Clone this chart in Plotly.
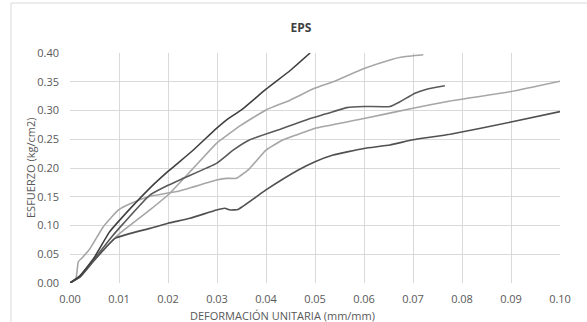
import plotly.graph_objects as go

# Curve data (strain mm/mm, stress kg/cm2)
x1 = [0.0, 0.002, 0.005, 0.008, 0.010, 0.0163, 0.020, 0.025, 0.0299, 0.0323, 0.035, 0.040, 0.045, 0.049]
y1 = [0.0, 0.012, 0.045, 0.088, 0.108, 0.165, 0.194, 0.230, 0.269, 0.286, 0.301, 0.337, 0.370, 0.400]

x2 = [0.0, 0.002, 0.005, 0.008, 0.010, 0.0163, 0.020, 0.025, 0.0299, 0.035, 0.040, 0.0449, 0.050, 0.0537, 0.060, 0.0653, 0.0677, 0.0721]
y2 = [0.0, 0.010, 0.040, 0.068, 0.085, 0.127, 0.153, 0.198, 0.243, 0.275, 0.301, 0.318, 0.339, 0.350, 0.373, 0.388, 0.393, 0.397]

x3 = [0.0, 0.002, 0.005, 0.008, 0.010, 0.0163, 0.020, 0.0231, 0.0299, 0.0333, 0.0367, 0.0435, 0.049, 0.0537, 0.0565, 0.060, 0.0653, 0.0673, 0.0704, 0.0728, 0.0765]
y3 = [0.0, 0.012, 0.042, 0.075, 0.095, 0.153, 0.170, 0.182, 0.208, 0.231, 0.249, 0.269, 0.286, 0.298, 0.305, 0.307, 0.307, 0.315, 0.330, 0.337, 0.343]

x4 = [0.0, 0.0012, 0.0017, 0.0025, 0.0041, 0.0068, 0.0099, 0.0126, 0.0163, 0.0218, 0.0299, 0.032, 0.034, 0.0367, 0.040, 0.0435, 0.049, 0.050, 0.060, 0.070, 0.0776, 0.090, 0.100]
y4 = [0.0, 0.008, 0.037, 0.044, 0.060, 0.098, 0.127, 0.139, 0.151, 0.159, 0.179, 0.182, 0.182, 0.1995, 0.231, 0.249, 0.266, 0.269, 0.286, 0.304, 0.3165, 0.333, 0.351]

x5 = [0.0, 0.002, 0.005, 0.0092, 0.0163, 0.020, 0.0245, 0.0299, 0.0316, 0.0327, 0.0343, 0.040, 0.0466, 0.050, 0.0537, 0.060, 0.0653, 0.070, 0.0776, 0.090, 0.100]
y5 = [0.0, 0.010, 0.040, 0.0777, 0.095, 0.104, 0.1125, 0.127, 0.130, 0.127, 0.128, 0.162, 0.1965, 0.211, 0.2226, 0.234, 0.240, 0.249, 0.2586, 0.280, 0.298]

x_ticks = [0.00, 0.01, 0.02, 0.03, 0.04, 0.05, 0.06, 0.07, 0.08, 0.09, 0.10]
y_ticks = [0.00, 0.05, 0.10, 0.15, 0.20, 0.25, 0.30, 0.35, 0.40]

chart_title = "EPS"
x_title = "DEFORMACIÓN UNITARIA (mm/mm)"
y_title = "ESFUERZO (kg/cm2)"

series = [
    (x4, y4, "#a6a6a6"),
    (x2, y2, "#a6a6a6"),
    (x5, y5, "#505050"),
    (x3, y3, "#5a5a5a"),
    (x1, y1, "#404040"),
]

fig = go.Figure()
for xs, ys, c in series:
    fig.add_trace(go.Scatter(x=xs, y=ys, mode="lines",
                             line=dict(color=c, width=1.6, shape="spline", smoothing=0.4),
                             showlegend=False, hoverinfo="skip"))

font_family = "Open Sans, Liberation Sans, sans-serif"
L, R, T, B = 70, 27, 53, 39
PW, PH = 587 - L - R, 322 - T - B

fig.update_layout(
    width=587, height=322,
    margin=dict(l=L, r=R, t=T, b=B),
    paper_bgcolor="white", plot_bgcolor="white",
    title=dict(text="<b>" + chart_title + "</b>", x=301 / 587, xanchor="center",
               y=1 - 28 / 322, yanchor="middle",
               font=dict(family=font_family, size=12, color="#404040")),
    font=dict(family=font_family, size=11, color="#595959"),
    xaxis=dict(range=[0, 0.10], tickvals=x_ticks, tickformat=".2f",
               showgrid=True, gridcolor="#d9d9d9", gridwidth=1,
               zeroline=False, showline=False, ticks="", ticklabelstandoff=8,
               tickfont=dict(size=11, color="#595959")),
    yaxis=dict(range=[0, 0.40], tickvals=y_ticks, tickformat=".2f",
               showgrid=True, gridcolor="#d9d9d9", gridwidth=1,
               zeroline=False, showline=False, ticks="", ticklabelstandoff=10,
               tickfont=dict(size=11, color="#595959")),
    annotations=[
        dict(text=x_title, xref="paper", yref="paper",
             x=(282 - L) / PW, y=(283 - 315) / PH, xanchor="center", yanchor="middle",
             showarrow=False, font=dict(size=11, color="#595959")),
        dict(text=y_title, xref="paper", yref="paper", textangle=-90,
             x=(30 - L) / PW, y=0.5, xanchor="center", yanchor="middle",
             showarrow=False, font=dict(size=11, color="#595959")),
    ],
    shapes=[dict(type="rect", xref="paper", yref="paper",
                 x0=(11 - L) / PW, x1=1.2, y0=-0.3, y1=1 + (T - 3) / PH,
                 line=dict(color="#d9d9d9", width=1), layer="below")],
)

fig.write_html("out.html", config={"displayModeBar": False},
               post_script="document.body.style.margin='0px';")
